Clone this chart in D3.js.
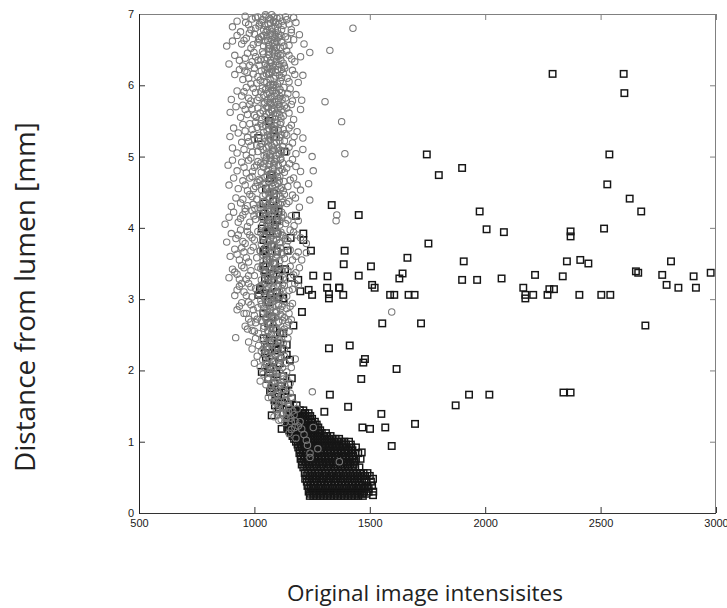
<!DOCTYPE html>
<html><head><meta charset="utf-8">
<script src="https://cdn.jsdelivr.net/npm/d3@7"></script>
<style>
body{margin:0;background:#fff;}
svg{display:block;}
</style></head>
<body>
<svg id="chart" width="727" height="608"></svg>
<script>
// ---------- DATA ----------
const xTicks = [500, 1000, 1500, 2000, 2500, 3000];
const yTicks = [0, 1, 2, 3, 4, 5, 6, 7];
const xTitle = "Original image intensisites";
const yTitle = "Distance from lumen [mm]";

// grey circles, whole cloud: [intensity, distance]
const circlePts = [
[905,6.82],[925,6.90],[940,6.75],[960,6.97],[975,6.85],[990,6.93],[1005,6.80],[1015,6.96],[1030,6.88],[1040,6.78],[1050,6.97],[1060,6.86],[1068,6.93],[1075,6.80],[1085,6.96],[1092,6.88],[1100,6.77],[1110,6.95],[1125,6.84],[1140,6.92],[1160,6.78],[1180,6.88],[1427,6.80],
[880,6.55],[905,6.62],[925,6.70],[945,6.58],[965,6.66],[985,6.52],[1000,6.72],[1015,6.60],[1030,6.68],[1040,6.55],[1050,6.74],[1058,6.63],[1065,6.52],[1072,6.70],[1080,6.59],[1088,6.66],[1095,6.53],[1105,6.72],[1118,6.60],[1135,6.68],[1150,6.56],[1170,6.64],[1195,6.71],[1215,6.58],[1327,6.49],
[890,6.30],[915,6.42],[935,6.35],[950,6.27],[970,6.45],[990,6.33],[1005,6.40],[1020,6.28],[1035,6.47],[1045,6.36],[1055,6.26],[1062,6.43],[1070,6.32],[1078,6.48],[1085,6.38],[1093,6.28],[1102,6.45],[1115,6.35],[1130,6.27],[1150,6.42],[1175,6.33],[1200,6.40],[1240,6.46],
[915,6.15],[935,6.22],[950,6.08],[968,6.18],[985,6.02],[1000,6.24],[1015,6.12],[1030,6.20],[1042,6.05],[1052,6.16],[1060,6.24],[1068,6.08],[1076,6.19],[1084,6.01],[1092,6.13],[1100,6.22],[1112,6.06],[1125,6.17],[1142,6.10],[1165,6.21],[1190,6.04],[1210,6.14],
[900,5.80],[925,5.92],[945,5.85],[965,5.97],[985,5.78],[1005,5.90],[1020,5.83],[1035,5.96],[1045,5.76],[1055,5.88],[1063,5.99],[1070,5.81],[1078,5.92],[1086,5.85],[1094,5.97],[1105,5.78],[1118,5.90],[1135,5.82],[1155,5.95],[1180,5.87],[1205,5.79],[1306,5.77],
[895,5.62],[920,5.70],[940,5.55],[960,5.66],[980,5.73],[1000,5.58],[1015,5.68],[1030,5.52],[1042,5.74],[1052,5.60],[1060,5.69],[1068,5.53],[1076,5.64],[1084,5.72],[1092,5.57],[1102,5.67],[1115,5.54],[1130,5.71],[1150,5.61],[1170,5.52],[1200,5.66],[1378,5.49],
[894,5.28],[910,5.40],[930,5.33],[950,5.45],[970,5.27],[990,5.38],[1005,5.48],[1020,5.30],[1035,5.42],[1045,5.26],[1055,5.36],[1062,5.46],[1070,5.29],[1078,5.40],[1088,5.32],[1098,5.47],[1110,5.27],[1125,5.38],[1140,5.30],[1160,5.44],[1185,5.35],[1210,5.26],
[905,5.12],[925,5.05],[945,5.20],[965,5.02],[985,5.15],[1000,5.24],[1015,5.07],[1030,5.18],[1042,5.01],[1052,5.12],[1060,5.22],[1068,5.04],[1076,5.15],[1085,5.08],[1095,5.20],[1108,5.03],[1122,5.14],[1140,5.06],[1165,5.19],[1210,5.10],[1250,5.00],[1392,5.04],
[886,4.88],[905,4.95],[925,4.80],[945,4.92],[965,4.77],[985,4.98],[1000,4.85],[1015,4.93],[1030,4.78],[1042,4.90],[1052,4.99],[1060,4.82],[1068,4.94],[1076,4.76],[1085,4.87],[1095,4.97],[1108,4.80],[1122,4.91],[1140,4.84],[1165,4.96],[1200,4.79],[1255,4.80],
[890,4.60],[910,4.70],[930,4.55],[950,4.66],[970,4.52],[990,4.72],[1005,4.58],[1020,4.68],[1032,4.53],[1045,4.63],[1055,4.73],[1063,4.56],[1072,4.67],[1080,4.51],[1090,4.61],[1100,4.71],[1112,4.55],[1128,4.65],[1145,4.58],[1170,4.70],[1200,4.53],[1235,4.62],
[900,4.30],[920,4.42],[940,4.35],[960,4.27],[980,4.47],[995,4.33],[1010,4.40],[1025,4.28],[1037,4.45],[1048,4.36],[1058,4.26],[1066,4.43],[1075,4.31],[1085,4.48],[1095,4.38],[1107,4.27],[1120,4.41],[1140,4.34],[1165,4.46],[1195,4.29],[1240,4.39],
[873,4.05],[890,4.15],[910,4.22],[930,4.08],[950,4.18],[970,4.02],[990,4.24],[1005,4.12],[1020,4.20],[1035,4.04],[1048,4.16],[1058,4.23],[1068,4.07],[1078,4.18],[1090,4.01],[1102,4.13],[1118,4.22],[1135,4.06],[1160,4.17],[1190,4.10],[1357,4.18],[1354,4.10],
[880,3.80],[900,3.92],[920,3.85],[940,3.97],[960,3.78],[980,3.90],[1000,3.83],[1015,3.95],[1030,3.77],[1042,3.88],[1052,3.98],[1062,3.80],[1072,3.92],[1082,3.84],[1095,3.96],[1108,3.79],[1125,3.89],[1145,3.82],[1170,3.94],[1200,3.86],[1225,3.78],
[895,3.60],[915,3.70],[935,3.55],[955,3.66],[975,3.52],[995,3.73],[1010,3.58],[1025,3.68],[1038,3.53],[1048,3.64],[1058,3.74],[1066,3.56],[1076,3.67],[1086,3.51],[1098,3.62],[1112,3.72],[1130,3.57],[1155,3.69],[1180,3.60],[1205,3.55],[1225,3.65],
[890,3.30],[905,3.42],[925,3.35],[945,3.47],[965,3.28],[985,3.40],[1000,3.33],[1015,3.45],[1030,3.27],[1042,3.38],[1052,3.48],[1062,3.31],[1072,3.43],[1082,3.26],[1094,3.36],[1108,3.46],[1125,3.30],[1145,3.40],[1170,3.34],[1195,3.44],
[915,3.05],[935,3.18],[955,3.10],[975,3.22],[990,3.03],[1005,3.15],[1020,3.08],[1032,3.20],[1044,3.02],[1054,3.13],[1064,3.23],[1074,3.06],[1084,3.17],[1095,3.01],[1108,3.11],[1122,3.21],[1140,3.04],[1165,3.14],[1190,3.19],
[925,2.85],[945,2.95],[965,2.80],[985,2.92],[1000,2.77],[1015,2.88],[1028,2.98],[1040,2.82],[1050,2.93],[1060,2.78],[1070,2.89],[1080,2.97],[1092,2.81],[1105,2.91],[1120,2.76],[1140,2.87],[1165,2.94],[1595,2.82],
[960,2.62],[975,2.72],[990,2.56],[1005,2.67],[1018,2.52],[1030,2.70],[1040,2.59],[1050,2.74],[1060,2.54],[1070,2.65],[1080,2.73],[1092,2.57],[1105,2.68],[1120,2.53],[1140,2.63],[1160,2.71],
[919,2.46],[975,2.40],[990,2.30],[1005,2.45],[1018,2.35],[1030,2.27],[1040,2.42],[1050,2.32],[1060,2.47],[1068,2.37],[1078,2.28],[1088,2.44],[1100,2.34],[1115,2.40],[1130,2.30],[1145,2.45],
[1000,2.10],[1012,2.20],[1025,2.05],[1036,2.15],[1046,2.24],[1055,2.08],[1064,2.18],[1073,2.02],[1082,2.13],[1092,2.22],[1104,2.06],[1118,2.17],[1135,2.10],[1160,2.04],[1177,2.16],
[1025,1.85],[1038,1.95],[1050,1.80],[1060,1.90],[1070,1.77],[1080,1.97],[1090,1.84],[1100,1.92],[1112,1.79],[1125,1.88],[1140,1.98],[1155,1.82],
[1060,1.62],[1072,1.72],[1083,1.56],[1094,1.67],[1105,1.52],[1115,1.64],[1127,1.73],[1140,1.58],[1155,1.68],[1170,1.54],[1251,1.70],
[1085,1.35],[1095,1.45],[1106,1.30],[1116,1.40],[1126,1.48],[1137,1.33],[1148,1.42],[1160,1.28],[1172,1.38],[1185,1.46],
[1160,1.17],[1175,1.20],[1190,1.22],[1205,1.18],[1255,1.20],[1215,1.10],[1180,1.05],[1225,1.02],[1150,1.12],[1198,1.28],
[1241,0.84],[1241,0.78],[1368,0.72],[1230,0.95],[1275,0.90]
];

// grey circles, dense core of the cloud: [intensity, distance]
const circleCore = [
[1035,6.92],[1045,6.84],[1055,6.78],[1063,6.95],[1070,6.87],[1078,6.76],[1083,6.90],[1090,6.82],[1098,6.94],[1105,6.86],[1048,6.99],[1075,6.99],[1020,6.83],[1120,6.90],
[1038,6.70],[1046,6.62],[1054,6.68],[1062,6.57],[1069,6.73],[1076,6.64],[1083,6.54],[1090,6.71],[1097,6.61],[1104,6.67],[1022,6.64],[1112,6.53],[1060,6.51],[1087,6.60],
[1040,6.44],[1048,6.30],[1056,6.38],[1064,6.47],[1071,6.35],[1079,6.27],[1086,6.44],[1094,6.33],[1101,6.40],[1109,6.29],[1028,6.36],[1066,6.26],[1090,6.49],[1120,6.44],
[1038,6.13],[1046,6.22],[1054,6.04],[1062,6.15],[1070,6.01],[1077,6.23],[1085,6.10],[1093,6.18],[1100,6.02],[1108,6.14],[1025,6.07],[1066,6.18],[1118,6.22],[1081,6.00],
[1040,5.86],[1048,5.94],[1056,5.79],[1064,5.90],[1072,5.84],[1080,5.97],[1088,5.77],[1096,5.89],[1103,5.81],[1111,5.94],[1028,5.91],[1068,5.76],[1085,5.92],[1120,5.80],
[1038,5.64],[1046,5.56],[1054,5.70],[1062,5.62],[1070,5.74],[1078,5.55],[1086,5.67],[1094,5.61],[1101,5.73],[1109,5.59],[1025,5.61],[1074,5.66],[1090,5.52],[1120,5.66],
[1040,5.34],[1048,5.44],[1056,5.30],[1064,5.39],[1072,5.49],[1080,5.33],[1088,5.43],[1096,5.27],[1104,5.37],[1112,5.45],[1028,5.46],[1066,5.26],[1084,5.38],[1118,5.31],
[1038,5.10],[1046,5.21],[1054,5.05],[1062,5.15],[1070,5.24],[1078,5.08],[1086,5.18],[1094,5.02],[1102,5.12],[1110,5.22],[1025,5.14],[1066,5.01],[1082,5.12],[1118,5.07],
[1040,4.85],[1048,4.95],[1056,4.79],[1064,4.89],[1072,4.98],[1080,4.83],[1088,4.93],[1096,4.77],[1104,4.87],[1112,4.96],[1028,4.91],[1068,4.76],[1084,4.90],[1120,4.82],
[1038,4.61],[1046,4.71],[1054,4.55],[1062,4.65],[1070,4.74],[1078,4.58],[1086,4.68],[1094,4.52],[1102,4.62],[1110,4.72],[1025,4.66],[1066,4.51],[1082,4.64],[1118,4.57],
[1040,4.37],[1048,4.47],[1056,4.31],[1064,4.41],[1072,4.27],[1080,4.40],[1088,4.30],[1096,4.45],[1104,4.34],[1112,4.44],[1028,4.32],[1068,4.49],[1084,4.26],[1120,4.36],
[1038,4.12],[1046,4.22],[1054,4.06],[1062,4.16],[1070,4.02],[1078,4.14],[1086,4.24],[1094,4.08],[1102,4.18],[1110,4.04],[1025,4.18],[1066,4.10],[1082,4.00],[1118,4.15],
[1040,3.87],[1048,3.97],[1056,3.81],[1064,3.91],[1072,3.77],[1080,3.89],[1088,3.99],[1096,3.83],[1104,3.93],[1112,3.79],[1028,3.93],[1068,3.85],[1084,3.76],[1120,3.90],
[1038,3.62],[1046,3.72],[1054,3.56],[1062,3.66],[1070,3.52],[1078,3.64],[1086,3.74],[1094,3.58],[1102,3.68],[1110,3.54],[1025,3.68],[1066,3.60],[1082,3.51],[1118,3.65],
[1040,3.37],[1048,3.47],[1056,3.31],[1064,3.41],[1072,3.27],[1080,3.39],[1088,3.49],[1096,3.33],[1104,3.43],[1112,3.29],[1028,3.43],[1068,3.35],[1084,3.26],[1120,3.40],
[1038,3.12],[1046,3.22],[1054,3.06],[1062,3.16],[1070,3.02],[1078,3.14],[1086,3.24],[1094,3.08],[1102,3.18],[1110,3.04],[1025,3.18],[1066,3.10],[1082,3.01],[1118,3.15],
[1040,2.87],[1048,2.97],[1056,2.81],[1064,2.91],[1072,2.77],[1080,2.89],[1088,2.99],[1096,2.83],[1104,2.93],[1112,2.79],[1030,2.93],[1068,2.85],[1084,2.76],[1120,2.90],
[1042,2.62],[1050,2.72],[1058,2.56],[1066,2.66],[1074,2.52],[1082,2.64],[1090,2.74],[1098,2.58],[1106,2.68],[1114,2.54],[1034,2.68],[1070,2.60],[1122,2.70],
[1045,2.37],[1053,2.47],[1061,2.31],[1069,2.41],[1077,2.27],[1085,2.39],[1093,2.49],[1101,2.33],[1109,2.43],[1117,2.29],[1038,2.30],[1125,2.38],
[1050,2.12],[1058,2.22],[1066,2.06],[1074,2.16],[1082,2.02],[1090,2.14],[1098,2.24],[1106,2.08],[1114,2.18],[1122,2.04],[1130,2.20],[1044,2.04],
[1060,1.87],[1068,1.97],[1076,1.81],[1084,1.91],[1092,1.77],[1100,1.89],[1108,1.99],[1116,1.83],[1124,1.93],[1132,1.79],[1140,1.88],
[1075,1.62],[1083,1.72],[1091,1.56],[1099,1.66],[1107,1.52],[1115,1.64],[1123,1.74],[1131,1.58],[1139,1.68],[1147,1.54],[1160,1.62],
[1100,1.37],[1108,1.47],[1116,1.31],[1124,1.41],[1132,1.27],[1140,1.39],[1150,1.49],[1158,1.33],[1166,1.43],[1176,1.29]
];

// grey circles, flanks of the core: [intensity, distance]
const circleMid = [
[962,6.88],[985,6.78],[1005,6.95],[1022,6.86],[1118,6.78],[1135,6.96],[1150,6.86],[1170,6.95],
[955,6.63],[978,6.73],[995,6.57],[1018,6.66],[1115,6.70],[1128,6.55],[1145,6.65],[1160,6.74],
[960,6.38],[980,6.28],[998,6.46],[1015,6.35],[1112,6.42],[1125,6.31],[1140,6.48],[1162,6.37],
[958,6.20],[975,6.10],[995,6.16],[1010,6.03],[1118,6.11],[1132,6.24],[1150,6.05],[1175,6.15],
[955,5.91],[975,5.82],[995,5.96],[1012,5.79],[1112,5.84],[1128,5.97],[1145,5.88],[1165,5.78],
[950,5.72],[970,5.59],[990,5.67],[1008,5.55],[1110,5.70],[1125,5.57],[1140,5.68],[1160,5.73],
[960,5.36],[980,5.46],[998,5.31],[1012,5.41],[1115,5.48],[1132,5.32],[1150,5.40],[1172,5.28],
[955,5.10],[975,5.21],[992,5.06],[1010,5.16],[1112,5.09],[1130,5.22],[1150,5.13],[1180,5.04],
[955,4.85],[975,4.95],[992,4.79],[1010,4.88],[1115,4.97],[1130,4.78],[1152,4.90],[1180,4.86],
[960,4.60],[980,4.70],[997,4.55],[1012,4.64],[1108,4.66],[1125,4.52],[1155,4.67],[1185,4.60],
[950,4.40],[970,4.31],[990,4.44],[1002,4.27],[1112,4.33],[1130,4.47],[1150,4.37],[1178,4.42],
[940,4.13],[960,4.23],[980,4.08],[998,4.17],[1110,4.09],[1125,4.18],[1145,4.11],[1172,4.03],
[930,3.90],[950,3.81],[970,3.95],[990,3.86],[1115,3.94],[1135,3.85],[1155,3.97],[1185,3.90],
[925,3.63],[945,3.72],[965,3.58],[985,3.68],[1120,3.63],[1140,3.74],[1165,3.55],[1190,3.66],
[915,3.38],[935,3.28],[955,3.44],[975,3.33],[1115,3.40],[1135,3.27],[1155,3.46],[1180,3.37],
[925,3.13],[945,3.22],[965,3.05],[985,3.17],[1115,3.06],[1130,3.19],[1150,3.12],[1175,3.22],
[935,2.90],[955,2.80],[975,2.96],[995,2.85],[1112,2.86],[1130,2.97],[1150,2.80],[1155,2.90],
[970,2.58],[985,2.68],[1000,2.55],[1012,2.72],[1130,2.58],[1148,2.68],[1130,2.74],[1150,2.55]
];

// black squares, scattered points: [intensity, distance]
const squarePts = [
[2292,6.16],[2600,6.16],[2603,5.89],[2538,5.03],[2529,4.61],[2626,4.41],[2676,4.23],[2515,3.99],[2370,3.95],[2370,3.88],[2354,3.53],[2412,3.55],[2447,3.50],[2216,3.34],[2336,3.32],[2653,3.39],[2663,3.37],[2767,3.34],[2805,3.53],[2903,3.32],[2977,3.37],[2786,3.20],[2837,3.16],[2913,3.16],[2165,3.16],[2174,3.01],[2174,3.06],[2208,3.06],[2270,3.06],[2278,3.14],[2298,3.14],[2408,3.06],[2503,3.06],[2542,3.06],[2694,2.63],[2339,1.69],[2370,1.69],
[1747,5.03],[1900,4.84],[1799,4.74],[1976,4.23],[2006,3.98],[2081,3.94],[1335,4.32],[1452,4.18],[1754,3.78],[1391,3.68],[1387,3.49],[1663,3.58],[1907,3.53],[1505,3.46],[1452,3.33],[1642,3.36],[1628,3.29],[1900,3.27],[1965,3.27],[2071,3.29],[1510,3.20],[1521,3.16],[1368,3.16],[1385,3.06],[1588,3.06],[1606,3.06],[1668,3.06],[1694,3.06],[1554,2.66],[1722,2.66],[1413,2.35],[1479,2.16],[1472,2.11],[1616,2.02],[1463,1.88],[1327,1.66],[1930,1.66],[2018,1.66],[1872,1.51],[1406,1.49],[1550,1.39],[1696,1.25],[1468,1.20],[1501,1.18],[1567,1.20],[1323,2.31],[1303,1.42],[1595,0.94],[1465,0.85],[1514,0.48],[1514,0.25],
[1180,4.17],[1212,3.92],[1212,3.83],[1157,3.86],[1144,3.68],[1245,3.68],[1255,3.33],[1317,3.32],[1315,3.16],[1367,3.16],[1323,3.07],[1323,3.01],[1199,3.11],[1235,3.13],[1250,3.06],[1157,3.30],[1190,3.27],[1104,3.42],[1133,3.42],[1124,3.01],[1206,2.82],[1169,2.63],[1111,2.53],[1063,5.50],[1086,5.37],[1017,5.26],[1086,5.28],[1130,5.07],[1075,4.74],[1068,4.70],[1050,4.55],[1085,4.48],
[1039,4.34],[1082,4.37],[1104,4.23],[1039,4.20],[1060,4.11],[1089,4.04],[1032,3.99],[1053,3.92],[1097,3.92],[1039,3.83],[1075,3.74],[1039,3.67],[1097,3.67],[1053,3.55],[1089,3.50],[1046,3.41],[1082,3.36],[1046,3.29],[1075,3.27],[1104,3.27],[1024,3.15],[1046,3.08],[1068,3.06],[1017,3.06],[1097,3.10],[1125,3.01],[1060,2.96],[1039,2.80],[1075,2.75],[1060,2.66],[1082,2.59],[1089,4.25],[1039,4.16],[1097,4.11],[1068,3.95],[1046,3.69],[1039,3.46],[1104,3.41],[1060,3.27],[1024,3.13],[1068,3.08],[1104,3.03],
[1125,2.52],[1140,2.36],[1097,2.31],[1046,2.24],[1140,2.22],[1154,2.15],[1032,1.98],[1068,2.05],[1162,1.89],[1147,1.80],[1068,1.70],[1104,1.63],[1162,1.61],[1089,1.51],[1183,1.51],[1075,1.37],[1125,1.40],[1118,1.18],
[1040,2.45],[1075,2.42],[1100,2.38],[1055,2.33],[1090,2.28],[1120,2.30],[1050,2.18],[1080,2.12],[1110,2.10],[1065,2.02],[1095,1.95],[1125,1.92],[1060,1.88],[1085,1.82],[1115,1.78],[1135,1.72],[1075,1.75],[1100,1.68],[1130,1.62],[1090,1.58],[1120,1.55],[1150,1.52],[1105,1.48],[1140,1.45],[1165,1.42]
];

// black squares, dense block near the lumen: [distance, [intensities...]]
const squareRows = [
[1.44,[1152,1167,1182,1197,1212]],
[1.40,[1160,1175,1190,1205,1220,1235]],
[1.36,[1152,1167,1182,1197,1212,1227,1242]],
[1.32,[1145,1160,1175,1190,1205,1220,1235,1250]],
[1.28,[1142,1157,1172,1187,1202,1217,1232,1247,1262]],
[1.24,[1150,1165,1180,1195,1210,1225,1240,1255,1270]],
[1.20,[1142,1157,1172,1187,1202,1217,1232,1247,1262,1277]],
[1.16,[1150,1165,1180,1195,1210,1225,1240,1255,1270,1285]],
[1.12,[1157,1172,1187,1202,1217,1232,1247,1262,1277,1292,1310]],
[1.08,[1165,1180,1195,1210,1225,1240,1255,1270,1285,1300,1315,1330]],
[1.04,[1172,1187,1202,1217,1232,1247,1262,1277,1292,1307,1322,1337,1352,1367]],
[1.00,[1180,1195,1210,1225,1240,1255,1270,1285,1300,1315,1330,1345,1360,1375,1390,1410]],
[0.96,[1187,1202,1217,1232,1247,1262,1277,1292,1307,1322,1337,1352,1367,1382,1397,1418]],
[0.92,[1190,1205,1220,1235,1250,1265,1280,1295,1310,1325,1340,1355,1370,1385,1400,1420,1440]],
[0.88,[1197,1212,1227,1242,1257,1272,1287,1302,1317,1332,1347,1362,1377,1392,1407,1425]],
[0.84,[1195,1210,1225,1240,1255,1270,1285,1300,1315,1330,1345,1360,1375,1390,1405,1420,1438,1450]],
[0.80,[1202,1217,1232,1247,1262,1277,1292,1307,1322,1337,1352,1367,1382,1397,1412,1428]],
[0.76,[1200,1215,1230,1245,1260,1275,1290,1305,1320,1335,1350,1365,1380,1395,1410,1425,1440,1460]],
[0.72,[1207,1222,1237,1252,1267,1282,1297,1312,1327,1342,1357,1372,1387,1402,1417,1435]],
[0.68,[1205,1220,1235,1250,1265,1280,1295,1310,1325,1340,1355,1370,1385,1400,1415,1430]],
[0.64,[1212,1227,1242,1257,1272,1287,1302,1317,1332,1347,1362,1377,1392,1407,1422,1437,1455]],
[0.56,[1218,1233,1248,1263,1278,1293,1308,1323,1338,1353,1368,1383,1398,1413,1428,1443,1458,1473,1490]],
[0.52,[1225,1240,1255,1270,1285,1300,1315,1330,1345,1360,1375,1390,1405,1420,1435,1450,1465,1480,1500]],
[0.48,[1220,1235,1250,1265,1280,1295,1310,1325,1340,1355,1370,1385,1400,1415,1430,1445,1460,1478]],
[0.44,[1227,1242,1257,1272,1287,1302,1317,1332,1347,1362,1377,1392,1407,1422,1437,1452,1467,1485,1505]],
[0.38,[1230,1245,1260,1275,1290,1305,1320,1335,1350,1365,1380,1395,1410,1425,1440,1455,1470,1490,1510]],
[0.34,[1237,1252,1267,1282,1297,1312,1327,1342,1357,1372,1387,1402,1417,1432,1447,1462,1477,1495]],
[0.30,[1235,1250,1265,1280,1295,1310,1325,1340,1355,1370,1385,1400,1415,1430,1445,1460,1475,1495,1515]],
[0.27,[1242,1257,1272,1287,1302,1317,1332,1347,1362,1377,1392,1407,1422,1437,1452,1467,1485]],
[0.24,[1240,1255,1270,1285,1300,1315,1330,1345,1360,1375,1390,1405,1420,1435,1450,1470]]
];

// ---------- DRAWING ----------
const svg = d3.select("#chart");
const x = d3.scaleLinear().domain([500, 3000]).range([139, 716]);
const y = d3.scaleLinear().domain([0, 7]).range([513, 14]);

const allSquares = squarePts.concat(
  squareRows.flatMap(([d, xs]) => xs.map(v => [v, d]))
);
const allCircles = circlePts.concat(circleMid, circleCore);

const plot = svg.append("g");
const S = 6.5;
plot.append("g").selectAll("rect").data(allSquares).join("rect")
  .attr("x", d => x(d[0]) - S/2).attr("y", d => y(d[1]) - S/2)
  .attr("width", S).attr("height", S)
  .attr("fill", "none").attr("stroke", "#161616").attr("stroke-width", 1.45);

plot.append("g").selectAll("circle").data(allCircles).join("circle")
  .attr("cx", d => x(d[0])).attr("cy", d => y(d[1])).attr("r", 3.2)
  .attr("fill", "none").attr("stroke", "#787878").attr("stroke-width", 1.05);

// axes
const fontAx = "'Liberation Sans', Arial, sans-serif";
function styleAxis(g, col) {
  g.select(".domain").remove();
  g.selectAll(".tick line").attr("stroke", col).attr("stroke-width", 1);
  g.selectAll(".tick text").attr("fill", "#1a1a1a").style("font-family", fontAx).style("font-size", "11px");
}
const gx = svg.append("g").attr("transform", "translate(0,513)")
  .call(d3.axisBottom(x).tickValues(xTicks).tickSize(-6).tickSizeOuter(0).tickPadding(6).tickFormat(d3.format("d")));
styleAxis(gx, "#333");
const gy = svg.append("g").attr("transform", "translate(139,0)")
  .call(d3.axisLeft(y).tickValues(yTicks).tickSize(-6).tickSizeOuter(0).tickPadding(5).tickFormat(d3.format("d")));
styleAxis(gy, "#333");
const gt = svg.append("g").attr("transform", "translate(0,14)")
  .call(d3.axisTop(x).tickValues(xTicks).tickSize(-6).tickSizeOuter(0).tickFormat(""));
styleAxis(gt, "#808080");
const gr = svg.append("g").attr("transform", "translate(716,0)")
  .call(d3.axisRight(y).tickValues(yTicks).tickSize(-6).tickSizeOuter(0).tickFormat(""));
styleAxis(gr, "#808080");

// frame
svg.append("line").attr("x1", 139).attr("x2", 716).attr("y1", 14.5).attr("y2", 14.5).attr("stroke", "#808080");
svg.append("line").attr("x1", 715.5).attr("x2", 715.5).attr("y1", 14).attr("y2", 513).attr("stroke", "#808080");
svg.append("line").attr("x1", 139).attr("x2", 716).attr("y1", 513.5).attr("y2", 513.5).attr("stroke", "#333");
svg.append("line").attr("x1", 139.5).attr("x2", 139.5).attr("y1", 14).attr("y2", 514).attr("stroke", "#222");

// titles
const fontT = "'Open Sans', 'Noto Sans', sans-serif";
function fit(t, target) {
  t.style("font-size", "100px");
  const w = t.node().getComputedTextLength();
  t.style("font-size", (100 * target / w).toFixed(2) + "px");
}
const tx = svg.append("text").text(xTitle)
  .attr("x", 425).attr("y", 601).attr("text-anchor", "middle")
  .attr("fill", "#222").style("font-family", fontT);
fit(tx, 276);
const ty = svg.append("text").text(yTitle)
  .attr("transform", "translate(35,297) rotate(-90)").attr("text-anchor", "middle")
  .attr("fill", "#222").style("font-family", fontT);
fit(ty, 350);
</script>
</body></html>
